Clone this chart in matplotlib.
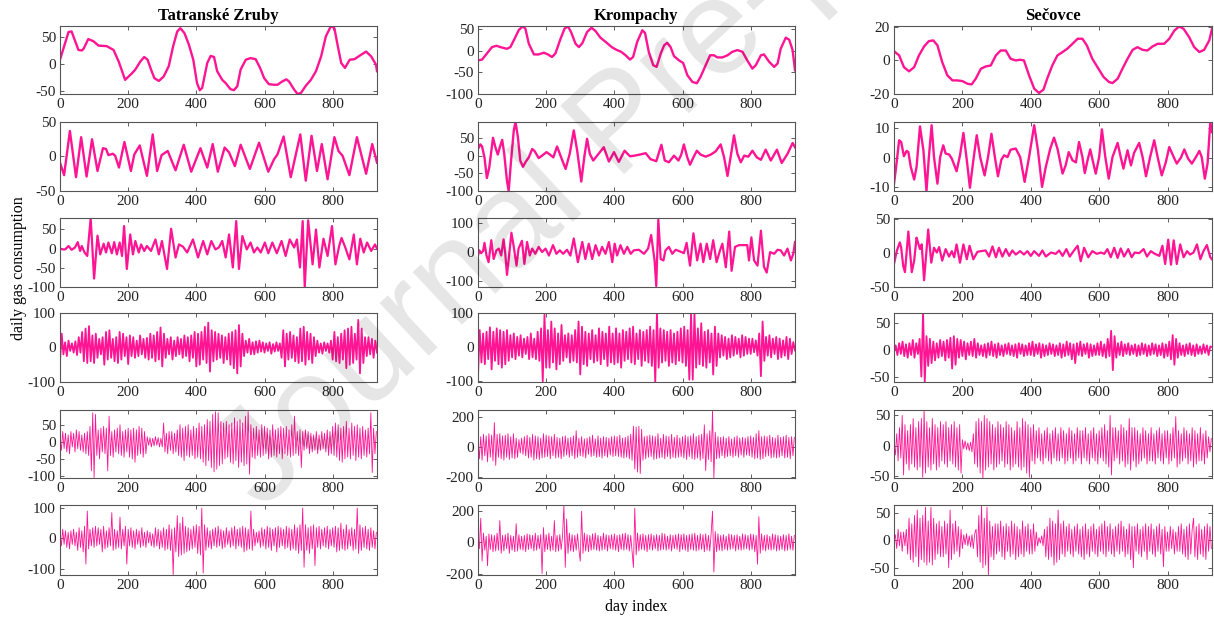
import numpy as np
import matplotlib
matplotlib.use("Agg")
import matplotlib.pyplot as plt

# ---- decomposition components (days, values) ----
stations = ["Tatranské Zruby", "Krompachy", "Sečovce"]

# Tatranské Zruby
tz1_day = [0, 25, 34, 54, 64, 69, 83, 98, 113, 137, 157, 172, 191, 211, 221, 236, 247, 257, 267, 277,
           290, 304, 319, 332, 344, 353, 365, 378, 391, 402, 410, 417, 432, 442, 452, 461, 476, 486, 500, 510,
           520, 530, 545, 559, 574, 587, 599, 613, 628, 638, 652, 664, 672, 687, 697, 707, 721, 736, 751, 766,
           780, 795, 805, 815, 825, 836, 850, 864, 878, 898, 913, 927, 930]
tz1_val = [8, 59, 60, 26, 25, 28, 46, 42, 34, 33, 26, 5, -29, -17, -10, 5, 13, 8, -10, -26,
           -31, -23, -4, 33, 60, 66, 57, 36, 8, -35, -48, -44, 2, 15, 13, -13, -29, -35, -46, -48,
           -41, -10, 8, 11, 9, -7, -26, -37, -38, -38, -32, -28, -32, -47, -55, -53, -40, -29, -13, 14,
           51, 70, 66, 33, 2, -7, 8, 9, 15, 23, 14, -1, -13]

tz2_day = [0, 12, 29, 47, 62, 78, 94, 110, 126, 135, 142, 155, 162, 173, 189, 208, 218, 234, 255, 272,
           285, 298, 316, 339, 363, 385, 412, 432, 448, 463, 483, 496, 513, 530, 557, 584, 611, 628, 638, 656,
           677, 705, 721, 738, 754, 768, 785, 805, 817, 829, 849, 871, 898, 916, 930]
tz2_val = [-9, -27, 37, -30, 28, -29, 25, -21, 12, 11, 2, 4, 1, -16, 21, -21, 3, 16, -28, 32,
           -21, 2, 8, -20, 17, -22, 12, -16, 18, -22, 13, 6, -14, 17, -18, 20, -22, -4, 3, 29,
           -30, 32, -35, 30, -21, 18, -33, 28, 8, 1, -27, 28, -25, 18, -9]

tz3_day = [0, 10, 15, 25, 34, 44, 52, 59, 64, 72, 80, 90, 100, 110, 118, 128, 135, 142, 152, 159,
           167, 175, 182, 188, 196, 206, 214, 221, 231, 238, 247, 255, 267, 280, 290, 299, 314, 326, 339, 349,
           361, 373, 390, 405, 420, 432, 444, 456, 466, 476, 486, 496, 507, 517, 525, 535, 548, 559, 569, 579,
           589, 601, 611, 623, 636, 650, 662, 674, 687, 695, 704, 712, 718, 728, 741, 751, 761, 773, 785, 798,
           808, 819, 826, 837, 849, 862, 871, 881, 891, 901, 913, 924, 930]
tz3_val = [0, -2, -2, 7, -3, 3, 17, -6, 7, -10, -19, 80, -78, 34, -15, 13, -10, 16, -12, 17,
           -15, 16, -19, 59, -53, 37, -15, 20, -10, 11, -6, 7, -6, 24, -15, 20, -53, 52, -23, 11,
           5, -10, 24, -23, 20, -15, 20, -2, 3, 20, -23, 37, -49, 72, -53, 33, -2, 16, -10, 3,
           -10, 16, -12, 16, -12, 20, -19, 24, 3, 24, -49, 72, -100, 74, -41, 50, -49, 26, -19, 59,
           -41, 7, 28, 3, -28, 37, -41, 26, -10, 16, -6, 11, 0]

# sampled every 5 days
tz4_val = [-40, 40, -20, 15, -25, 20, -10, 12, -15, 18, -22, 30, -15, 45, -40, 55, -45, 62, -40, 35,
           -45, 40, -30, 25, -20, 30, -50, 45, -35, 50, -30, 25, -40, 30, -45, 45, -35, 40, -25, 30,
           -48, 35, -25, 30, -30, 20, -25, 35, -20, 25, -30, 28, -35, 40, -30, 35, -40, 45, -35, 58,
           -55, 40, -30, 25, -20, 30, -35, 20, -25, 30, -20, 25, -30, 35, -25, 30, -40, 35, -30, 45,
           -55, 40, -50, 45, -35, 60, -45, 72, -70, 50, -40, 45, -35, 40, -30, 35, -45, 30, -35, 40,
           -50, 45, -60, 50, -75, 65, -55, 40, -25, 20, -15, 25, -20, 15, -20, 18, -15, 20, -12, 15,
           -15, 12, -10, 15, -18, 10, -12, 15, -10, 12, -30, 50, -55, 40, -35, 45, -30, 35, -40, 30,
           -45, 55, -40, 60, -50, 45, -35, 40, -45, 30, -25, 20, -15, 12, -18, 15, -10, 12, -15, 20,
           -35, 45, -40, 30, -45, 40, -35, 50, -60, 55, -50, 60, -45, 40, -35, 80, -75, 55, -45, 30,
           -25, 30, -20, 25, -30, 20, -15]

# sampled every 4 days
tz5_val = [10, -25, 30, -20, 25, -30, 20, -35, 30, -15, 25, -30, 35, -20, 30, -25, 20, -30, 25, -35, 30, -40, 45, -85, 85,
           -105, 80, -40, 35, -50, 40, -30, 45, -35, 40, -85, 75, -40, 30, -45, 35, -30, 40, -35, 50, -40, 30, -45, 35, -30,
           40, -45, 35, -50, 40, -60, 35, -40, 45, -35, 40, -45, 30, -35, 15, -10, 12, -15, 10, -12, 15, -10, 12, -15, 10,
           -15, 55, -30, 25, -35, 30, -25, 30, -35, 25, -30, 35, -40, 50, -45, 40, -55, 45, -40, 50, -45, 35, -40, 45, -50,
           40, -45, 55, -50, 45, -60, 50, -70, 65, -55, 60, -75, 80, -88, 88, -80, 85, -70, 60, -65, 55, -50, 60, -45, 50,
           -60, 55, -65, 70, -55, 60, -75, 65, -60, 55, -70, 75, -65, 90, -95, 50, -45, 40, -50, 45, -40, 35, -45, 50, -40,
           45, -35, 40, -50, 35, -45, 50, -40, 35, -45, 40, -35, 45, -50, 40, -35, 45, -40, 35, -45, 50, -40, 75, -35, 30,
           -40, 35, -75, 30, -25, 35, -20, 30, -35, 25, -30, 20, -25, 30, -35, 20, -25, 30, -20, 25, -30, 35, -40, 30, -35,
           45, -40, 55, -45, 50, -55, 40, -60, 45, -50, 60, -45, 40, -50, 55, -40, 45, -55, 50, -45, 40, -50, 45, -40, 35,
           -45, 40, -35, 85, -90, 40, -35, 30]

tz6_val = [15, -25, 30, -20, 25, -30, 20, -35, 25, -20, 30, -25, 20, -40, 35, -30, 25, -45, 40, -85, 90, -35, 30, -25, 35,
           -30, 40, -25, 35, -20, 30, -45, 40, -35, 25, -30, 35, -25, 85, -40, 30, -35, 25, -30, 70, -35, 30, -25, 40, -85,
           30, -25, 35, -30, 25, -35, 30, -20, 25, -30, 35, -25, 20, -30, 25, -15, 20, -25, 15, -30, 35, -25, 30, -35, 25,
           -30, 35, -40, 30, -35, 45, -40, 30, -120, 35, -45, 75, -60, 50, -55, 70, -50, 40, -45, 35, -40, 30, -35, 40, -30,
           45, -50, 40, -55, 100, -115, 45, -40, 35, -30, 25, -35, 30, -25, 35, -30, 40, -25, 30, -35, 25, -30, 35, -20, 25,
           -30, 35, -25, 40, -35, 30, -25, 35, -30, 40, -45, 35, -40, 30, -35, 90, -40, 30, -25, 20, -15, 25, -30, 35, -25,
           30, -35, 40, -30, 35, -40, 30, -25, 35, -45, 40, -30, 35, -25, 30, -35, 40, -30, 35, -40, 30, -35, 45, -40, 35,
           -50, 45, -40, 100, -95, 45, -40, 35, -50, 40, -35, 45, -90, 35, -30, 40, -35, 30, -25, 35, -30, 40, -35, 30, -25,
           35, -30, 40, -45, 35, -40, 50, -35, 30, -40, 45, -35, 30, -25, 35, -40, 30, -35, 100, -50, 45, -40, 35, -30, 40,
           -35, 30, -40, 35, -30, 25, -35, 20]

# Krompachy
kp1_day = [0, 12, 26, 41, 54, 70, 85, 95, 107, 120, 131, 139, 149, 164, 178, 193, 205, 217, 227, 242,
           254, 264, 273, 286, 296, 306, 320, 333, 345, 359, 379, 394, 408, 420, 433, 446, 455, 467, 482, 490,
           501, 514, 524, 536, 546, 555, 565, 575, 590, 602, 614, 629, 642, 653, 668, 681, 692, 702, 717, 732,
           746, 761, 776, 790, 805, 815, 830, 839, 854, 869, 879, 888, 903, 913, 923, 930]
kp1_val = [-22, -20, -6, 9, 12, 8, 5, 9, 28, 49, 57, 52, 17, -8, -8, -4, -8, -14, -6, 28,
           52, 57, 44, 17, 9, 18, 44, 54, 46, 31, 18, 8, 2, -2, -10, -20, -14, 21, 48, 42,
           -2, -33, -37, -6, 13, 19, 9, -12, -22, -28, -56, -72, -75, -60, -33, -10, -10, -15, -15, -10,
           -2, 2, -2, -22, -41, -33, -10, -8, -25, -37, -29, 5, 31, 26, 2, -45]

kp2_day = [0, 7, 12, 19, 26, 33, 44, 51, 58, 64, 71, 77, 85, 90, 97, 105, 110, 117, 124, 132,
           139, 149, 159, 166, 178, 188, 201, 211, 221, 232, 242, 257, 269, 281, 291, 303, 312, 320, 328, 338,
           352, 369, 384, 399, 413, 430, 446, 459, 475, 492, 506, 523, 538, 548, 560, 575, 588, 596, 604, 614,
           622, 632, 642, 653, 668, 683, 697, 712, 722, 732, 741, 751, 761, 771, 781, 793, 805, 818, 830, 844,
           859, 877, 891, 908, 923, 930]
kp2_val = [19, 32, 26, -5, -64, -34, 51, 24, 3, 24, 45, 5, -72, -101, -14, 72, 96, 53, -14, -32,
           -19, -5, 19, 13, -7, 0, 10, 3, -5, 26, 0, -38, 5, 72, 14, -74, -3, 48, 5, -14,
           3, 24, -17, 10, -18, 14, -2, 0, 3, 7, -10, -16, 31, -14, -19, 0, -14, 2, 32, -5,
           -26, -5, 14, 3, -3, 3, 12, 32, -5, -58, -5, 58, 5, -19, 0, -3, 14, -5, -12, 17,
           -14, 17, -21, 5, 36, 24]

kp3_day = [0, 4, 9, 15, 19, 25, 31, 39, 46, 54, 61, 68, 75, 80, 85, 91, 98, 105, 113, 119,
           129, 136, 144, 152, 159, 168, 178, 188, 198, 208, 220, 230, 240, 250, 261, 271, 281, 293, 306, 315,
           325, 335, 345, 355, 364, 374, 384, 394, 401, 408, 418, 428, 438, 448, 457, 472, 487, 499, 508, 518,
           523, 529, 536, 544, 550, 560, 570, 580, 593, 604, 612, 622, 632, 643, 653, 661, 671, 681, 690, 700,
           710, 717, 727, 737, 744, 754, 766, 781, 790, 795, 802, 810, 820, 830, 839, 847, 857, 869, 879, 888,
           898, 908, 918, 925, 930]
kp3_val = [-12, 6, -4, 4, 32, -12, -35, 41, -24, 6, 12, -12, 44, -6, -79, -15, 67, 18, -47, 12,
           39, -41, 35, -12, 12, -6, 18, 0, 12, -12, 24, -6, 6, -6, 8, -12, 47, -35, 35, -24,
           29, -24, 24, -12, 18, -6, 35, -35, 29, -12, 24, -6, 18, -6, 6, 8, -6, 12, 59, -29,
           -118, 112, -24, -29, 6, 18, -6, 8, 2, -4, 32, -47, 65, -29, 29, -35, 29, -24, 41, -35,
           6, 29, -53, 71, -65, 18, 24, 24, 24, -29, 51, -29, -47, 74, -51, -71, 0, -6, 8, 6,
           -12, 12, -29, -6, 35]

kp4_val = [-85, 50, -45, 40, -50, 45, -35, 58, -65, 45, -40, 55, -50, 50, -60, 45, -50, 50, -40, 35,
           -30, 40, -35, 30, -25, 35, -30, 25, -20, 30, -35, 40, -30, 25, -35, 45, -40, 55, -100, 95,
           -60, 50, -60, 75, -45, 55, -65, 40, -50, 65, -40, 35, -30, 40, -45, 35, -40, 50, -45, 75,
           -80, 60, -50, 45, -55, 40, -35, 50, -45, 35, -40, 55, -50, 45, -35, 40, -55, 60, -45, 40,
           -50, 55, -45, 40, -60, 50, -40, 45, -35, 55, -45, 60, -50, 40, -35, 50, -55, 45, -40, 50,
           -45, 60, -55, 50, -105, 100, -60, 55, -45, 50, -40, 45, -55, 50, -45, 40, -50, 45, -40, 55,
           -45, 60, -55, 50, -95, 100, -95, 100, -60, 55, -50, 70, -55, 45, -60, 50, -45, 40, -80, 60,
           -55, 40, -30, 35, -25, 30, -35, 25, -30, 35, -25, 30, -20, 25, -30, 35, -25, 30, -20, 25,
           -20, 25, -15, 20, -25, 40, -85, 75, -40, 30, -25, 35, -30, 25, -20, 30, -35, 25, -30, 20,
           -25, 30, -35, 25, -20, 15, -10]

kp5_val = [60, -80, 70, -90, 85, -60, 75, -100, 90, -70, 80, -95, 165, -125, 85, -70, 90, -80, 75, -90, 80, -70, 90, -85, 70,
           -75, 90, -80, 60, -70, 50, -40, 60, -50, 70, -60, 80, -75, 65, -70, 85, -90, 75, -80, 70, -85, 60, -75, 90, -70,
           80, -65, 75, -80, 70, -60, 85, -75, 65, -70, 60, -80, 70, -65, 75, -55, 60, -70, 65, -60, 75, -80, 110, -70, 60,
           -60, 70, -65, 55, -75, 60, -50, 70, -65, 80, -60, 55, -70, 75, -65, 60, -75, 70, -60, 65, -70, 60, -55, 70, -65,
           75, -60, 70, -65, 80, -70, 60, -75, 65, -70, 75, -80, 85, -90, 140, -150, 135, -170, 140, -180, 120, -90, 70, -80, 75,
           -70, 80, -65, 75, -85, 70, -80, 90, -75, 60, -70, 85, -80, 75, -65, 70, -80, 85, -70, 65, -75, 80, -70, 60, -65,
           70, -75, 80, -85, 70, -65, 75, -80, 90, -85, 70, -75, 80, -90, 85, -80, 150, -160, 90, -85, 110, -100, 250, -210, 100,
           -80, 70, -75, 65, -60, 70, -75, 60, -65, 70, -60, 55, -70, 65, -60, 75, -70, 60, -55, 65, -70, 60, -55, 70, -60,
           75, -70, 65, -80, 90, -75, 110, -85, 70, -80, 75, -65, 70, -60, 80, -75, 65, -70, 60, -75, 80, -70, 65, -60, 70,
           -75, 80, -70, 65, -80, 70, -60, 65]

kp6_val = [30, -40, 155, -120, 60, -50, 40, -150, 55, -45, 50, -60, 45, -55, 60, -50, 140, -70, 45, -55, 50, -40, 60, -70, 45,
           -50, 40, -60, 120, -55, 50, -45, 40, -50, 45, -60, 55, -45, 50, -40, 45, -55, 60, -50, 45, -40, 50, -200, 95, -60,
           50, -45, 60, -55, 40, -50, 140, -60, 45, -55, 50, -45, 40, 240, -160, 150, -70, 60, -55, 50, -60, 45, -50, 55, -45,
           -120, 200, -70, 60, -55, 50, -60, 45, -50, 55, -45, 60, -50, 45, -55, 40, -50, 60, -45, 50, -55, 45, -40, 50, -45,
           55, -50, 45, -60, 50, -45, 55, -50, 60, -45, 50, -55, 45, -60, -160, 220, -80, 60, -55, 50, -45, 55, -50, 45, -60,
           50, -45, 55, -50, 45, -40, 50, -55, 45, -50, 60, -45, 55, -50, 40, -45, 50, -55, 45, -40, 50, -45, 55, -60, 50,
           -45, 55, -50, 45, -60, 50, -45, 55, -50, 60, -55, 45, -50, 55, -45, 50, -60, 55, -50, 45, -55, 60, 200, -190, 70,
           -60, 55, -50, 45, -55, 50, -45, 40, -50, 55, -45, 50, -40, 45, -55, 50, -45, 40, -50, 55, -45, 50, -40, 45, -50,
           55, -45, 50, -60, 45, -140, 165, -70, 55, -50, 45, -55, 50, -45, 40, -50, 55, -45, 50, -55, 45, -50, 40, -45, 50,
           -55, 45, -50, 55, -45, 40, -50, 45]

# Sečovce
sc1_day = [0, 15, 29, 44, 59, 73, 88, 102, 115, 127, 141, 156, 171, 185, 200, 215, 227, 239, 254, 268,
           283, 298, 312, 327, 341, 356, 369, 380, 395, 410, 424, 437, 449, 463, 478, 493, 507, 522, 537, 551,
           564, 580, 595, 613, 629, 639, 654, 668, 683, 698, 712, 727, 741, 756, 771, 790, 805, 820, 834, 847,
           863, 878, 893, 907, 922, 930]
sc1_val = [5.5, 3, -4, -6.5, -4, 3, 8.3, 11.5, 11.9, 9, -1, -8.9, -11.9, -11.9, -12.3, -13.9, -14.3, -10.9, -5, -3.6,
           -3, 3, 5.9, 5.9, 1, 0, 0.4, 0, -8.9, -16.8, -19.4, -17.4, -10.3, -3, 3, 5, 7, 9.9, 12.9, 12.9,
           8.9, 1, -4, -9.9, -12.9, -13.5, -10.9, -5, 1, 6.3, 7.9, 6.3, 5.9, 8.3, 9.9, 9.9, 12.9, 17.8, 20.2, 18.8,
           13.9, 7.9, 5, 6.3, 11.9, 18.8]

sc2_day = [0, 5, 15, 21, 29, 37, 42, 49, 59, 66, 76, 86, 95, 102, 110, 117, 127, 135, 144, 151,
           161, 169, 183, 193, 203, 213, 222, 232, 242, 252, 265, 275, 285, 295, 304, 314, 322, 332, 341, 356,
           369, 382, 395, 410, 421, 433, 444, 457, 468, 478, 493, 502, 511, 522, 532, 541, 551, 558, 566, 574,
           581, 590, 600, 608, 618, 628, 639, 654, 663, 671, 683, 693, 702, 717, 727, 737, 749, 761, 771, 783,
           795, 805, 818, 827, 839, 849, 860, 871, 883, 893, 900, 909, 917, 925, 930]
sc2_val = [-8.7, -4.2, 6, 5.4, 0.6, 2.4, 2, -3, -7.3, -3, 10.7, 2.6, -11.2, 0.3, 11.1, 0.3, -8.7, 0.3, 4.3, 1.5,
           1.2, -0.2, -4.5, 0.9, 8.5, -0.8, -10.1, -0.8, 7.7, 0.3, -5.9, 0.3, 8.2, 0.3, -6.2, -0.6, 0.9, 0.3, 2.8, 3.2,
           0.3, -8.1, 0.3, 11.1, 2.6, -9.8, -3, 3.2, 6.9, 3.2, -5.3, -2.5, 2, -0.8, -1.5, 5.4, 0.3, -5.1, -0.8, 2.9,
           -0.8, -5.3, 0.3, 9.7, 0.3, -7, 0.3, 5.1, 0.3, -3.6, 2.6, -2.5, 1.7, 5.1, 0.3, -6.2, 0.3, 6, 0.3, -5.9,
           -1.4, 3.7, 0.3, -1.9, 0.1, 2.9, -0.2, -1.9, 0.3, 2.4, 0.3, -7, -1.9, 12.2, 8.8]

sc3_day = [0, 8, 17, 21, 27, 32, 42, 52, 59, 66, 70, 76, 81, 88, 100, 109, 117, 125, 132, 141,
           151, 161, 169, 176, 183, 193, 203, 213, 221, 232, 244, 254, 268, 278, 288, 298, 307, 317, 327, 337,
           346, 356, 369, 380, 390, 400, 410, 424, 434, 444, 459, 473, 483, 493, 504, 514, 525, 537, 546, 556,
           568, 580, 593, 605, 615, 624, 634, 644, 654, 663, 673, 685, 695, 704, 717, 730, 740, 751, 763, 776,
           785, 793, 802, 810, 818, 827, 837, 847, 857, 866, 876, 886, 896, 905, 915, 925, 930]
sc3_val = [-16, 3, 16, 8, -19, -28, 32, -28, -11, 23, 16, 6, 13, -40, 35, -14, 8, 1, 9, -11,
           6, -5, 3, -6, 13, -14, 13, -9, 11, -9, 2, 3, 4, -5, 10, -6, 8, -5, 6, -4,
           4, -2, 3, -2, 3, -4, 3, -4, 4, -5, 1, -1, 4, -4, 6, -5, 3, 11, -12, 8,
           -6, 3, -1, 1, -1, 6, -6, 8, -7, 7, -5, 6, -6, 1, 0, 6, -5, 3, -1, -4,
           11, -16, 20, -17, 19, -16, 13, -6, 3, -2, 1, 13, -9, 3, 12, -6, -9]

sc4_val = [-5, 8, -10, 12, -8, 15, -12, 10, -15, 12, -10, 18, -15, 12, -8, 20, -50, 70, -60, 25,
           -30, 20, -25, 15, -20, 12, -15, 18, -12, 15, -20, 18, -15, 22, -35, 25, -28, 20, -15, 18,
           -12, 15, -18, 12, -10, 15, -12, 20, -15, 12, -10, 8, -12, 10, -15, 12, -10, 15, -12, 10,
           -15, 12, -10, 8, -12, 10, -8, 12, -10, 8, -12, 10, -15, 12, -8, 10, -12, 8, -10, 12,
           -10, 15, -12, 10, -8, 12, -15, 10, -12, 8, -10, 12, -8, 10, -12, 8, -10, 12, -15, 10,
           -12, 15, -10, 12, -18, 10, -25, 12, -10, 15, -12, 10, -8, 12, -15, 10, -12, 8, -10, 12,
           -10, 15, -12, 10, -15, 20, -12, 35, -38, 25, -15, 12, -10, 15, -12, 10, -8, 12, -10, 8,
           -8, 10, -12, 8, -10, 12, -8, 10, -12, 8, -10, 12, -8, 10, -12, 8, -10, 12, -15, 10,
           -12, 15, -18, 27, -28, 20, -15, 12, -10, 8, -12, 10, -8, 12, -10, 8, -12, 10, -8, 6,
           -8, 10, -6, 8, -10, 6, 5]

sc5_val = [5, -15, 20, -25, 30, -20, 50, -48, 35, -30, 25, -40, 35, -30, 45, -35, 30, -40, 40, -35, 45, -52, 60, -45, 40,
           -35, 30, -40, 45, -30, 35, -40, 30, -35, 40, -25, 35, -30, 40, -35, 30, -25, 35, -30, 40, -35, 30, -40, 35, -45,
           10, -5, 8, -6, 5, -8, 6, -10, 20, -30, 40, -35, 45, -45, 40, -55, 50, -40, 45, -35, 40, -30, 35, -40, 30,
           -35, 40, -30, 35, -25, 30, -35, 40, -30, 35, -40, 30, -35, 25, -30, 40, -35, 30, -40, 45, -35, 40, -45, 35, -52,
           30, -25, 35, -30, 25, -20, 30, -25, 20, -30, 25, -20, 30, -25, 20, -30, 25, -20, 30, -25, 20, -25, 30, -20, 25,
           -30, 20, -25, 30, -20, 25, -30, 20, -25, 30, -20, 25, -30, 25, -20, 30, -25, 20, -30, 25, -20, 30, -25, 20, -30,
           25, -20, 30, -25, 35, -30, 25, -35, 50, -48, 30, -25, 30, -20, 25, -30, 35, -25, 30, -35, 25, -30, 45, -40, 30,
           -25, 30, -35, 25, -30, 20, -25, 30, -20, 25, -30, 20, -25, 30, -25, 20, -30, 25, -20, 30, -25, 20, -30, 25, -20,
           25, -30, 20, -25, 30, -20, 48, -35, 25, -30, 20, -25, 30, -20, 25, -30, 20, -25, 30, -35, 25, -30, 20, -25, 30,
           -25, 20, -30, 25, -20, 15, -10, 12]

sc6_val = [0, 10, -15, 20, -10, 15, -20, 15, -10, 20, -25, 40, -35, 30, -40, 45, -30, 55, -48, 40, -35, 45, -40, 60, -45,
           35, -40, 60, -45, 40, -35, 30, -25, 35, -30, 25, -30, 35, -25, 30, -50, 55, -35, 30, -25, 35, -20, 25, -30, 20,
           -15, 10, -8, 12, -10, 8, -12, 10, -15, 12, 20, -30, 45, -40, 65, -50, 40, -45, 60, -65, 35, -30, 25, -35, 30,
           -25, 30, -20, 35, -30, 25, -35, 30, -20, 25, -30, 35, -25, 30, -35, 25, -30, 20, -25, 35, -30, 25, -20, 30, -25,
           20, -25, 30, -20, 15, -10, 5, -5, 8, -10, 20, -30, 25, -35, 40, -30, 35, -45, 30, -40, 55, -35, 30, -25, 35,
           -30, 25, -20, 30, -25, 20, -30, 25, -20, 30, -25, 20, -30, 25, -35, 30, -25, 20, -30, 25, -20, 30, -25, 20, -30,
           25, -20, 30, -25, 35, -30, 25, -20, 30, -25, 20, -30, 25, -20, 30, -25, 35, -20, 25, -30, 20, -25, 30, -35, 25,
           -50, 25, -20, 30, -25, 20, -30, 25, -20, 30, -35, 25, -20, 30, -25, 20, -30, 25, -20, 30, -25, 20, -48, 25, -20,
           15, -20, 25, -15, 20, -25, 15, -20, 25, -20, 30, -25, 20, -30, 25, -35, 30, -25, 20, 40, -30, 25, -35, 30, -25,
           20, -30, 25, -35, 30, -20, 25, -15]


def even(vals, step):
    vals = np.asarray(vals, dtype=float)
    return np.arange(len(vals)) * step, vals


columns = [
    [(tz1_day, tz1_val), (tz2_day, tz2_val), (tz3_day, tz3_val),
     even(tz4_val, 5), even(tz5_val, 4), even(tz6_val, 4)],
    [(kp1_day, kp1_val), (kp2_day, kp2_val), (kp3_day, kp3_val),
     even(kp4_val, 5), even(kp5_val, 4), even(kp6_val, 4)],
    [(sc1_day, sc1_val), (sc2_day, sc2_val), (sc3_day, sc3_val),
     even(sc4_val, 5), even(sc5_val, 4), even(sc6_val, 4)],
]

ylims = [
    [(-55, 70), (-50, 50), (-100, 80), (-100, 100), (-106, 93), (-121, 110)],
    [(-100, 58), (-101, 96), (-121, 118), (-102, 100), (-210, 250), (-209, 240)],
    [(-20, 20.5), (-11.2, 12.2), (-50, 52), (-60, 68), (-53, 59), (-63, 64)],
]
yticks = [
    [[-50, 0, 50], [-50, 0, 50], [-100, -50, 0, 50], [-100, 0, 100], [-100, -50, 0, 50], [-100, 0, 100]],
    [[-100, -50, 0, 50], [-100, -50, 0, 50], [-100, 0, 100], [-100, 0, 100], [-200, 0, 200], [-200, 0, 200]],
    [[-20, 0, 20], [-10, 0, 10], [-50, 0, 50], [-50, 0, 50], [-50, 0, 50], [-50, 0, 50]],
]
widths = [1.7, 1.7, 1.6, 1.3, 0.6, 0.6]

plt.rcParams["font.family"] = ["Liberation Serif", "DejaVu Serif"]
plt.rcParams["axes.unicode_minus"] = False
W, H = 1214, 617
fig = plt.figure(figsize=(W / 100, H / 100), dpi=100)

col_left = [60, 478, 894]
col_w = [317, 317, 318]
row_top = [26, 122, 218, 313, 410, 505]
row_bot = [94, 191, 287, 382, 478, 575]
line_color = "#ff1493"

for c in range(3):
    for r in range(6):
        ax = fig.add_axes([col_left[c] / W, 1 - row_bot[r] / H,
                           col_w[c] / W, (row_bot[r] - row_top[r]) / H])
        d, v = columns[c][r]
        ax.plot(d, v, color=line_color, lw=widths[r], solid_joinstyle="round")
        ax.set_xlim(0, 930)
        ax.set_ylim(*ylims[c][r])
        ax.set_xticks([0, 200, 400, 600, 800])
        ax.set_yticks(yticks[c][r])
        ax.tick_params(direction="in", length=3, width=0.6, top=True, right=True,
                       labelsize=11, colors="#444444", labelcolor="#222222", pad=3)
        for s in ax.spines.values():
            s.set_color("#555555")
            s.set_linewidth(0.8)
        if r == 0:
            ax.set_title(stations[c], fontsize=12, fontweight="bold", pad=4)

fig.text(0.016, 1 - 268 / H, "daily gas consumption", rotation=90,
         ha="center", va="center", fontsize=11.5)
fig.text(636 / W, 1 - 607 / H, "day index", ha="center", va="center", fontsize=11.5)

# diagonal watermark
fig.text(262 / W, 1 - 512 / H, "Journal Pre-proof", rotation=43, rotation_mode="anchor",
         ha="left", va="baseline", fontsize=98, family="Liberation Sans",
         color="#000000", alpha=0.1, zorder=10)

fig.savefig("out.png", dpi=100)
